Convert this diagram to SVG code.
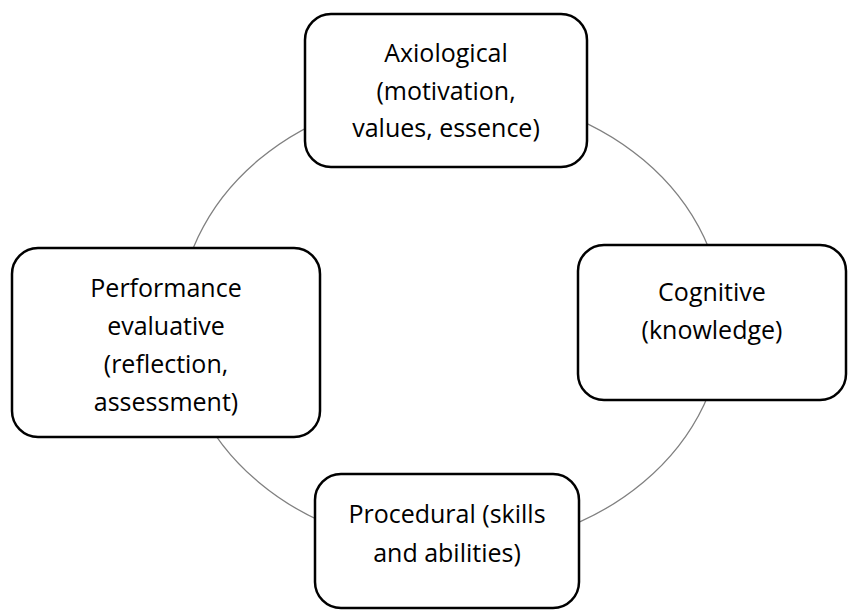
<svg xmlns="http://www.w3.org/2000/svg" width="848" height="610" viewBox="0 0 848 610">
<style>
.box{fill:#fff;stroke:#000;stroke-width:2.5}
.t{font-family:"Open Sans","Liberation Sans",sans-serif;font-size:25px;fill:#000;text-anchor:middle}
.ring{fill:none;stroke:#808080;stroke-width:1.3}
</style>
<rect width="848" height="610" fill="#fff"/>
<g id="connectors">
<ellipse class="ring" cx="451" cy="321" rx="272" ry="228"/>
</g>
<g id="axiological">
<rect class="box" x="305" y="14" width="282" height="153" rx="26"/>
<text class="t" x="446" y="62">Axiological</text>
<text class="t" x="446" y="100">(motivation,</text>
<text class="t" x="446" y="137">values, essence)</text>
</g>
<g id="cognitive">
<rect class="box" x="578" y="245" width="268" height="155" rx="26"/>
<text class="t" x="712" y="301">Cognitive</text>
<text class="t" x="712" y="339">(knowledge)</text>
</g>
<g id="performance">
<rect class="box" x="12" y="248" width="308" height="189" rx="26"/>
<text class="t" x="166" y="297">Performance</text>
<text class="t" x="166" y="335">evaluative</text>
<text class="t" x="166" y="373">(reflection,</text>
<text class="t" x="166" y="411">assessment)</text>
</g>
<g id="procedural">
<rect class="box" x="315" y="474" width="264" height="134" rx="26"/>
<text class="t" x="447" y="523">Procedural (skills</text>
<text class="t" x="447" y="562">and abilities)</text>
</g>
</svg>
